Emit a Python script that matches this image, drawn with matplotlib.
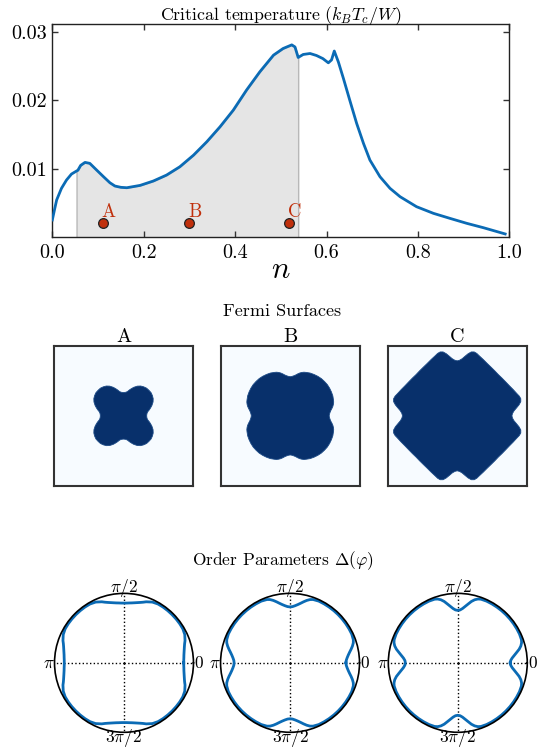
import numpy as np
import matplotlib
matplotlib.use("Agg")
import matplotlib.pyplot as plt
from matplotlib.ticker import FormatStrFormatter

plt.rcParams['font.family'] = 'serif'
plt.rcParams['font.serif'] = ['cmr10', 'DejaVu Serif']
plt.rcParams['mathtext.fontset'] = 'cm'
plt.rcParams['axes.formatter.use_mathtext'] = True
plt.rcParams['axes.unicode_minus'] = False

# ---------------- data ----------------
n_vals = [0.0, 0.005, 0.0095, 0.02, 0.031, 0.042, 0.053, 0.056, 0.062, 0.0715,
          0.082, 0.097, 0.112, 0.126, 0.137, 0.15, 0.163, 0.192, 0.221, 0.250,
          0.279, 0.309, 0.338, 0.367, 0.396, 0.425, 0.454, 0.484, 0.505, 0.524,
          0.531, 0.538, 0.549, 0.564, 0.578, 0.592, 0.604, 0.611, 0.617, 0.626,
          0.637, 0.651, 0.666, 0.681, 0.695, 0.717, 0.739, 0.761, 0.797, 0.834,
          0.870, 0.907, 0.943, 0.991]
tc_vals = [0.00253, 0.0041, 0.00545, 0.00715, 0.00836, 0.00924, 0.00968, 0.0098, 0.0105, 0.01094,
           0.0108, 0.00982, 0.00885, 0.00797, 0.00749, 0.00730, 0.00724, 0.00758, 0.00822, 0.00909,
           0.0103, 0.0120, 0.01395, 0.01614, 0.01857, 0.0215, 0.02416, 0.0266, 0.02757, 0.0281,
           0.0278, 0.02626, 0.0267, 0.02684, 0.02655, 0.0261, 0.02548, 0.0259, 0.0272, 0.0256,
           0.0232, 0.0200, 0.01663, 0.0137, 0.01128, 0.00885, 0.00715, 0.00593, 0.00447, 0.0035,
           0.00277, 0.00204, 0.00141, 0.00049]
shade_range = [0.053, 0.538]

point_labels = ['A', 'B', 'C']
point_n = [0.110, 0.299, 0.519]
point_tc = [0.00204, 0.00204, 0.00204]

x_ticks = [0.0, 0.2, 0.4, 0.6, 0.8, 1.0]
y_ticks = [0.01, 0.02, 0.03]

# octant angles (degrees) at which shapes were read
octant_deg = [0, 2.5, 5, 7.5, 10, 12.5, 15, 17.5, 20, 25, 30, 35, 40, 45]

# Fermi surface radii (fraction of half Brillouin zone)
fermi_A = [0.333, 0.335, 0.338, 0.345, 0.357, 0.377, 0.396, 0.415, 0.435, 0.469, 0.493, 0.507, 0.517, 0.517]
fermi_B = [0.560, 0.565, 0.575, 0.589, 0.609, 0.628, 0.643, 0.655, 0.662, 0.676, 0.684, 0.691, 0.696, 0.696]
fermi_C = [0.787, 0.797, 0.821, 0.860, 0.903, 0.937, 0.947, 0.937, 0.918, 0.889, 0.865, 0.850, 0.841, 0.836]

# order parameter |Delta(phi)| (normalised)
delta_A = [0.86, 0.861, 0.865, 0.87, 0.878, 0.888, 0.90, 0.915, 0.935, 0.965, 0.978, 0.98, 0.98, 0.98]
delta_B = [0.805, 0.81, 0.825, 0.845, 0.87, 0.90, 0.93, 0.955, 0.97, 0.98, 0.98, 0.98, 0.98, 0.98]
delta_C = [0.755, 0.762, 0.785, 0.82, 0.86, 0.905, 0.94, 0.963, 0.975, 0.98, 0.98, 0.98, 0.98, 0.98]

polar_ticklabels = ['$0$', r'$\pi/2$', r'$\pi$', r'$3\pi/2$']


def full_curve(r_oct):
    """Extend octant readings to the full circle using the 4-fold mirror symmetry."""
    d = np.array(octant_deg, float)
    r = np.array(r_oct, float)
    d1 = np.concatenate([d, 90 - d[::-1][1:]])
    r1 = np.concatenate([r, r[::-1][1:]])
    ds, rs = [], []
    for k in range(4):
        ds.append(d1[:-1] + 90 * k)
        rs.append(r1[:-1])
    ds = np.concatenate(ds + [[360.0]])
    rs = np.concatenate(rs + [[r1[0]]])
    return np.deg2rad(ds), rs


BLUE = '#0b6bb5'
RED = '#c0300c'

fig = plt.figure(figsize=(5.41, 7.51), dpi=100)

# ---------------- top: critical temperature ----------------
ax = fig.add_axes([0.0967, 0.684, 0.8447, 0.2836])
n_arr = np.array(n_vals)
tc_arr = np.array(tc_vals)
mask = (n_arr >= shade_range[0]) & (n_arr <= shade_range[1])
ax.fill_between(n_arr, 0, tc_arr, where=mask, facecolor='#e5e5e5',
                edgecolor='#b8b8b8', linewidth=1.0, zorder=1)
ax.plot(n_arr, tc_arr, color=BLUE, lw=2, zorder=3)
ax.plot(point_n, point_tc, 'o', ms=7, mfc=RED, mec='#222222', mew=0.9, zorder=4)
for lab, xn, yt in zip(point_labels, point_n, point_tc):
    ax.annotate(lab, (xn, yt), xytext=(4, 8.5), textcoords='offset points',
                ha='center', va='center', color=RED, fontsize=13.5)
ax.set_xlim(0, 1)
ax.set_ylim(0, 0.0311)
ax.set_xticks(x_ticks)
ax.set_yticks(y_ticks)
ax.xaxis.set_major_formatter(FormatStrFormatter('%.1f'))
ax.yaxis.set_major_formatter(FormatStrFormatter('%.2f'))
ax.tick_params(direction='in', top=True, right=True, length=4, width=1,
               labelsize=14.5, color='#333333')
ax.tick_params(axis='x', pad=5)
ax.tick_params(axis='y', pad=4)
for s in ax.spines.values():
    s.set_linewidth(1.0)
    s.set_color('#222222')
ax.set_title('Critical temperature ($k_BT_c/W$)', fontsize=12.8, pad=3)
ax.set_xlabel('$n$', fontsize=22, labelpad=-4)

# ---------------- middle: Fermi surfaces ----------------
fig.text(0.5207, 1 - 311.5 / 751, 'Fermi Surfaces', ha='center', va='center', fontsize=13)
fermi_lefts = [0.0998, 0.408, 0.7166]
for left, lab, rf in zip(fermi_lefts, point_labels, [fermi_A, fermi_B, fermi_C]):
    fa = fig.add_axes([left, 0.3533, 0.257, 0.186])
    fa.set_facecolor('#f7fbff')
    th, rr = full_curve(rf)
    fa.fill(rr * np.cos(th), rr * np.sin(th), color='#08306b', lw=0.6, ec='#1c4a86')
    fa.set_xlim(-1, 1)
    fa.set_ylim(-1, 1)
    fa.set_xticks([])
    fa.set_yticks([])
    for s in fa.spines.values():
        s.set_linewidth(1.5)
        s.set_color('#333333')
    fa.set_title(lab, fontsize=14.5, pad=2)

# ---------------- bottom: order parameters ----------------
fig.text(0.523, 1 - 561 / 751, r'Order Parameters $\Delta(\varphi)$', ha='center',
         va='center', fontsize=12.5)
polar_lefts = [0.1007, 0.4076, 0.7177]
for left, rd in zip(polar_lefts, [delta_A, delta_B, delta_C]):
    pa = fig.add_axes([left, 0.0249, 0.257, 0.185], projection='polar')
    th, rr = full_curve(rd)
    pa.plot(th, rr, color=BLUE, lw=2)
    pa.set_ylim(0, 1)
    pa.set_yticks([])
    pa.set_xticks(np.deg2rad([0, 90, 180, 270]))
    pa.set_xticklabels(polar_ticklabels, fontsize=12.5)
    pa.tick_params(axis='x', length=0, pad=-3)
    pa.grid(True, color='k', linestyle=':', linewidth=1)
    pa.spines['polar'].set_linewidth(1.2)
    pa.spines['polar'].set_color('k')

fig.savefig('out.png', dpi=100)
